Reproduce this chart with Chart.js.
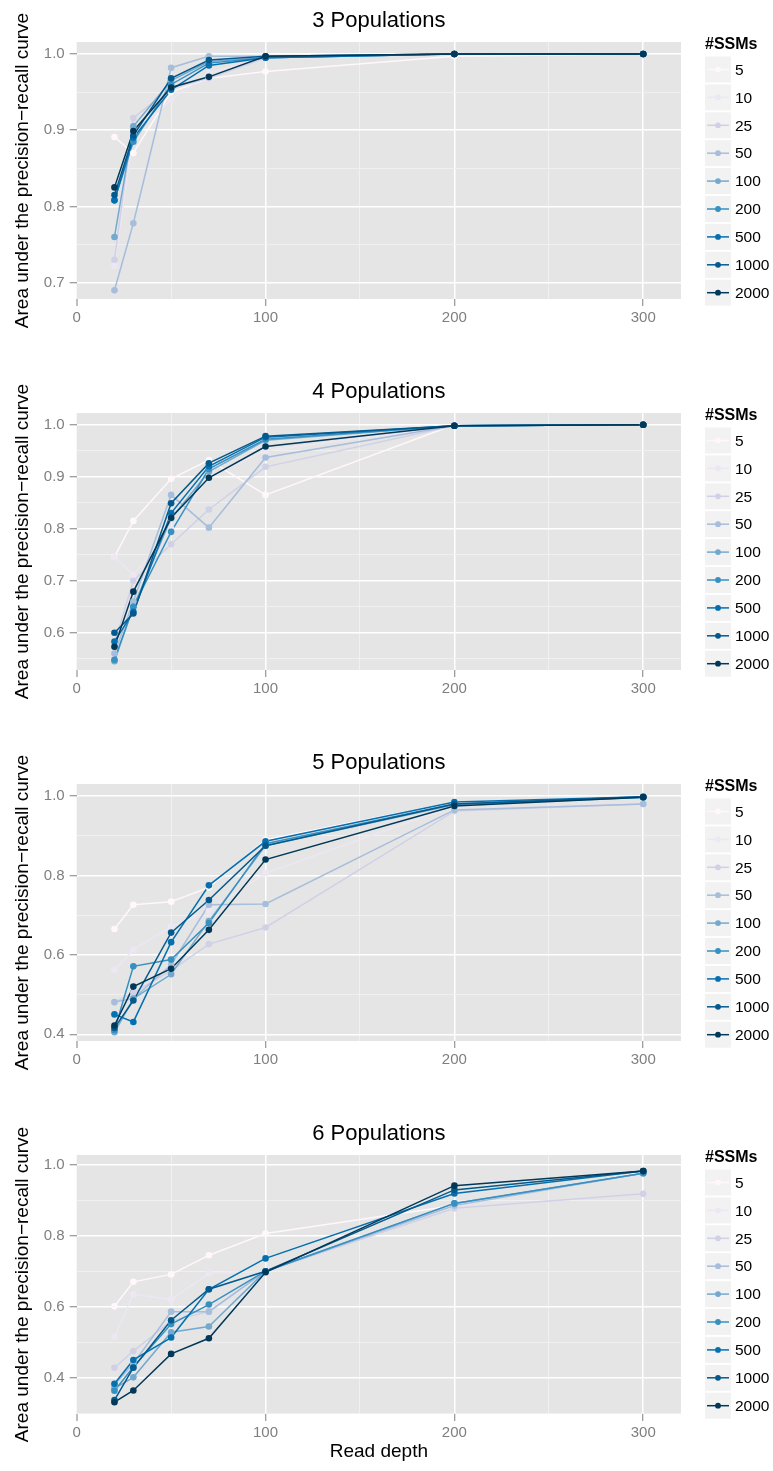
<!DOCTYPE html>
<html>
<head>
<meta charset="utf-8">
<script src="https://cdn.jsdelivr.net/npm/chart.js@4.4.1/dist/chart.umd.min.js"></script>
<style>
  body { margin: 0; background: #fff; width: 773px; height: 1471px; overflow: hidden; }
  canvas { position: absolute; left: 0; }
</style>
</head>
<body>
<canvas id="pop3" width="773" height="371" style="top:0px"></canvas>
<canvas id="pop4" width="773" height="371" style="top:371px"></canvas>
<canvas id="pop5" width="773" height="371" style="top:742px"></canvas>
<canvas id="pop6" width="773" height="358" style="top:1113px"></canvas>
<script>
// x values (read depth) and legend groups
const readDepth = [20, 30, 50, 70, 100, 200, 300];
const ssmCounts = ['5', '10', '25', '50', '100', '200', '500', '1000', '2000'];
const ssmColours = ['#fff7fb', '#ece7f2', '#d0d1e6', '#a6bddb', '#74a9cf', '#3690c0', '#0570b0', '#045a8d', '#023858'];

// AUPR per #SSMs (rows follow ssmCounts)
const auprPop3 = [
  [0.891, 0.870, 0.950, 0.968, 0.977, 0.997, 1.000],
  [0.722, 0.895, 0.940, 0.975, 0.995, 1.000, 1.000],
  [0.730, 0.916, 0.955, 0.968, 0.995, 1.000, 1.000],
  [0.690, 0.778, 0.982, 0.997, 0.997, 1.000, 1.000],
  [0.760, 0.905, 0.965, 0.990, 0.995, 1.000, 1.000],
  [0.808, 0.885, 0.960, 0.988, 0.995, 1.000, 1.000],
  [0.808, 0.890, 0.953, 0.985, 0.995, 1.000, 1.000],
  [0.815, 0.893, 0.968, 0.992, 0.997, 1.000, 1.000],
  [0.825, 0.899, 0.956, 0.970, 0.997, 1.000, 1.000]
];
const auprPop4 = [
  [0.746, 0.815, 0.896, 0.932, 0.865, 1.000, 1.000],
  [0.745, 0.711, 0.800, 0.900, 0.950, 0.998, 1.000],
  [0.580, 0.700, 0.770, 0.837, 0.919, 0.998, 1.000],
  [0.560, 0.660, 0.865, 0.802, 0.937, 0.998, 1.000],
  [0.545, 0.650, 0.820, 0.910, 0.970, 0.998, 1.000],
  [0.548, 0.650, 0.794, 0.915, 0.972, 0.998, 1.000],
  [0.583, 0.640, 0.830, 0.920, 0.976, 0.998, 1.000],
  [0.600, 0.637, 0.849, 0.926, 0.978, 0.998, 1.000],
  [0.573, 0.679, 0.821, 0.898, 0.958, 0.998, 1.000]
];
const auprPop5 = [
  [0.665, 0.726, 0.734, 0.770, 0.890, 0.985, 0.998],
  [0.562, 0.613, 0.671, 0.711, 0.806, 0.975, 0.995],
  [0.480, 0.505, 0.560, 0.627, 0.669, 0.962, 0.980],
  [0.481, 0.490, 0.575, 0.726, 0.728, 0.965, 0.980],
  [0.405, 0.490, 0.551, 0.685, 0.875, 0.978, 0.996],
  [0.410, 0.571, 0.588, 0.680, 0.880, 0.980, 0.997],
  [0.450, 0.431, 0.632, 0.775, 0.886, 0.985, 0.998],
  [0.416, 0.485, 0.656, 0.738, 0.875, 0.980, 0.998],
  [0.422, 0.520, 0.565, 0.663, 0.840, 0.975, 0.997]
];
const auprPop6 = [
  [0.601, 0.670, 0.691, 0.745, 0.806, 0.885, 0.978],
  [0.515, 0.635, 0.620, 0.694, 0.700, 0.877, 0.918],
  [0.428, 0.475, 0.560, 0.586, 0.700, 0.877, 0.918],
  [0.380, 0.440, 0.586, 0.586, 0.700, 0.885, 0.976],
  [0.370, 0.401, 0.528, 0.544, 0.700, 0.891, 0.976],
  [0.363, 0.430, 0.551, 0.606, 0.700, 0.891, 0.976],
  [0.383, 0.450, 0.513, 0.649, 0.736, 0.919, 0.982],
  [0.337, 0.428, 0.562, 0.649, 0.700, 0.929, 0.982],
  [0.331, 0.364, 0.467, 0.511, 0.697, 0.941, 0.982]
];

// axis tick labels
const xTicks = [0, 100, 200, 300];
const yTicksPop3 = [0.7, 0.8, 0.9, 1.0];
const yTicksPop4 = [0.6, 0.7, 0.8, 0.9, 1.0];
const yTicksPop56 = [0.4, 0.6, 0.8, 1.0];

const FONT = '"Liberation Sans", Arial, Helvetica, sans-serif';
const AXIS_GREY = '#7f7f7f';

// grey panel behind the plot
const panelBackground = {
  id: 'panelBackground',
  beforeDraw(chart) {
    const { ctx, chartArea: a } = chart;
    ctx.save();
    ctx.fillStyle = '#e5e5e5';
    ctx.fillRect(a.left, a.top, a.right - a.left, a.bottom - a.top);
    ctx.restore();
  }
};

// panel title + ggplot-like legend
const panelDecor = {
  id: 'panelDecor',
  afterDraw(chart, args, opts) {
    const { ctx, chartArea: a } = chart;
    ctx.save();
    ctx.fillStyle = '#000';
    ctx.textBaseline = 'middle';
    ctx.textAlign = 'center';
    ctx.font = '22px ' + FONT;
    ctx.fillText(opts.title, (a.left + a.right) / 2, a.top - 21);

    const lx = 705;
    ctx.textAlign = 'left';
    ctx.font = 'bold 16px ' + FONT;
    ctx.fillText('#SSMs', lx, a.top + 3);
    ctx.font = '15.5px ' + FONT;
    ssmCounts.forEach((label, i) => {
      const top = a.top + 14.5 + i * 27.9;
      const cy = top + 13;
      ctx.fillStyle = '#f2f2f2';
      ctx.fillRect(lx, top, 26, 26);
      ctx.strokeStyle = ssmColours[i];
      ctx.lineWidth = 1.5;
      ctx.beginPath();
      ctx.moveTo(lx + 2, cy);
      ctx.lineTo(lx + 24, cy);
      ctx.stroke();
      ctx.fillStyle = ssmColours[i];
      ctx.beginPath();
      ctx.arc(lx + 13, cy, 2.9, 0, Math.PI * 2);
      ctx.fill();
      ctx.fillStyle = '#000';
      ctx.fillText(label, lx + 30, cy + 1);
    });
    ctx.restore();
  }
};

function isIn(list, v) {
  return list.some(t => Math.abs(t - v) < 1e-6);
}

function buildChart(id, title, series, yMajor, yMin, yMax, isLast) {
  const step = yMajor[1] - yMajor[0];
  const yAll = [];
  yMajor.forEach(v => {
    yAll.push(v);
    if (v - step / 2 > yMin) yAll.push(v - step / 2);
  });
  const xAll = [0, 50, 100, 150, 200, 250, 300];

  const datasets = [];
  series.forEach((vals, i) => {
    const pts = readDepth.map((x, j) => ({ x: x, y: vals[j] }));
    // lines first, points on top (like ggplot layers)
    datasets.push({
      label: ssmCounts[i], data: pts, borderColor: ssmColours[i],
      borderWidth: 1.5, pointRadius: 0, tension: 0, order: 40 - i
    });
    datasets.push({
      label: ssmCounts[i], data: pts, showLine: false, pointRadius: 3.3,
      pointBorderWidth: 0, pointBackgroundColor: ssmColours[i], order: 20 - i
    });
  });

  const canvas = document.getElementById(id);
  const plotH = isLast ? 259 : 257;
  const xAxisH = canvas.height - 42 - plotH;

  new Chart(canvas, {
    type: 'line',
    data: { datasets },
    plugins: [panelBackground, panelDecor],
    options: {
      responsive: false,
      animation: false,
      layout: { padding: { top: 42, right: 92, bottom: 0, left: 0 } },
      plugins: {
        legend: { display: false },
        tooltip: { enabled: false },
        panelDecor: { title: title }
      },
      scales: {
        x: {
          type: 'linear', min: 0, max: 320,
          afterBuildTicks: s => { s.ticks = xAll.map(v => ({ value: v })); },
          afterFit: s => { s.height = xAxisH; },
          border: { display: false },
          grid: {
            color: c => isIn(xTicks, c.tick.value) ? '#ffffff' : '#f2f2f2',
            lineWidth: c => c.tick.value === 0 ? 0 : (isIn(xTicks, c.tick.value) ? 1.5 : 0.8),
            tickColor: c => isIn(xTicks, c.tick.value) ? AXIS_GREY : 'rgba(0,0,0,0)',
            tickWidth: c => isIn(xTicks, c.tick.value) ? 1 : 0,
            tickLength: 7
          },
          ticks: {
            autoSkip: false, maxRotation: 0, padding: 3,
            color: AXIS_GREY, font: { family: FONT, size: 15 },
            callback: v => isIn(xTicks, v) ? String(v) : ''
          },
          title: {
            display: isLast, text: 'Read depth', color: '#000',
            font: { family: FONT, size: 19 }, padding: { top: 0, bottom: 8 }
          }
        },
        y: {
          type: 'linear', min: yMin, max: yMax,
          afterBuildTicks: s => { s.ticks = yAll.map(v => ({ value: v })); },
          afterFit: s => { s.width = 76.7; },
          border: { display: false },
          grid: {
            color: c => isIn(yMajor, c.tick.value) ? '#ffffff' : '#f2f2f2',
            lineWidth: c => isIn(yMajor, c.tick.value) ? 1.5 : 0.8,
            tickColor: c => isIn(yMajor, c.tick.value) ? AXIS_GREY : 'rgba(0,0,0,0)',
            tickWidth: c => isIn(yMajor, c.tick.value) ? 1 : 0,
            tickLength: 7
          },
          ticks: {
            autoSkip: false, padding: 5,
            color: AXIS_GREY, font: { family: FONT, size: 15 },
            callback: v => isIn(yMajor, v) ? v.toFixed(1) : ''
          },
          title: {
            display: true, text: 'Area under the precision\u2212recall curve', color: '#000',
            font: { family: FONT, size: 19 }, padding: { top: 11, bottom: 0 }
          }
        }
      }
    }
  });
}

buildChart('pop3', '3 Populations', auprPop3, yTicksPop3, 0.6786, 1.0157, false);
buildChart('pop4', '4 Populations', auprPop4, yTicksPop4, 0.5283, 1.0225, false);
buildChart('pop5', '5 Populations', auprPop5, yTicksPop56, 0.383, 1.0303, false);
buildChart('pop6', '6 Populations', auprPop6, yTicksPop56, 0.2977, 1.0273, true);
</script>
</body>
</html>
